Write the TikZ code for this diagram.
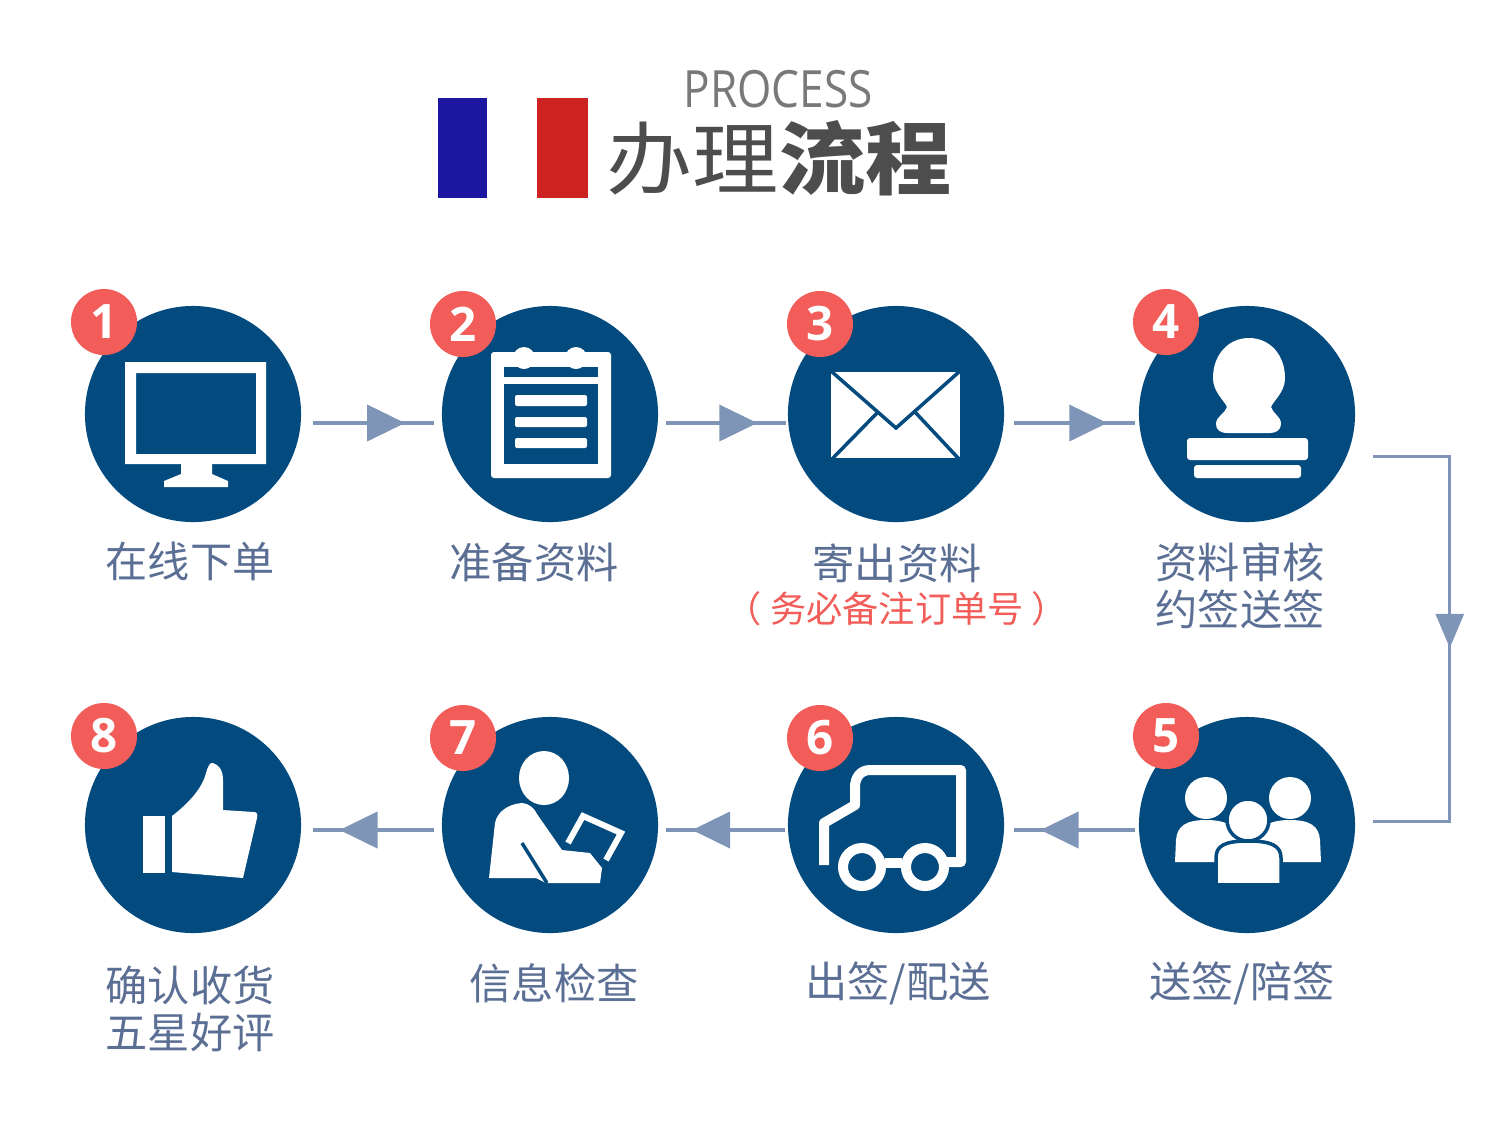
\documentclass[tikz,border=0pt]{standalone}
\usepackage{fontspec}
\setsansfont{Open Sans}
\newfontfamily\cjk{Noto Sans CJK SC}
\usetikzlibrary{calc,arrows.meta,decorations.markings}
\definecolor{stepblue}{HTML}{034A7E}
\definecolor{badgered}{HTML}{F25C59}
\definecolor{flowblue}{HTML}{7F95B7}
\definecolor{labelblue}{HTML}{5B6F94}
\definecolor{titlegray}{HTML}{4D4D4D}
\definecolor{flagblue}{HTML}{1C16A0}
\definecolor{flagred}{HTML}{CC2320}
\tikzset{
  stepnode/.style={circle,fill=stepblue,minimum size=2.16cm,inner sep=0pt},
  badge/.style={circle,fill=badgered,minimum size=0.66cm,inner sep=0pt,text=white,font=\sffamily\bfseries\fontsize{13.5}{14}\selectfont},
  steplabel/.style={text=labelblue,align=center,inner sep=0pt,font=\cjk\fontsize{12}{13.4}\selectfont},
  flowline/.style={draw=flowblue,line width=0.04cm},
  midtip/.style={postaction={decorate},decoration={markings,mark=at position #1 with {\arrow[flowblue]{Triangle[length=0.38cm,width=0.36cm]}}}},
  downtip/.style={postaction={decorate},decoration={markings,mark=at position #1 with {\arrow[flowblue]{Triangle[length=0.34cm,width=0.28cm]}}}},
  icon/.style={fill=white,draw=none},
  iconline/.style={draw=white,line width=0.1cm},
  iconcut/.style={draw=stepblue,line width=0.035cm}
}
\begin{document}
\begin{tikzpicture}[x=0.01cm,y=-0.01cm]
\useasboundingbox (0,0) rectangle (1500,1141);
% Draw title
\fill[flagblue] (438,98) rectangle (487,198);
\fill[flagred] (537,98) rectangle (588,198);
\node[text=titlegray!75,inner sep=0pt,xscale=.86,font=\sffamily\fontsize{14.6}{15}\selectfont] (process) at (778,89) {PROCESS};
\node[text=titlegray,inner sep=0pt,yscale=.92,font=\cjk\fontsize{24.5}{25}\selectfont] (title) at (779,158) {办理{\bfseries 流程}};
% Draw circles
\node[stepnode] (step1) at (193,414) {};
\node[stepnode] (step2) at (550,414) {};
\node[stepnode] (step3) at (896,414) {};
\node[stepnode] (step4) at (1247,414) {};
\node[stepnode] (step5) at (1247,825) {};
\node[stepnode] (step6) at (896,825) {};
\node[stepnode] (step7) at (550,825) {};
\node[stepnode] (step8) at (193,825) {};
% Draw monitor
\fill[icon,even odd rule] (125,362) rectangle (266,464) (136,373) rectangle (256,454);
\fill[icon] (181,464) -- (212,464) -- (212,474) -- (228,481) -- (228,487) -- (164,487) -- (164,481) -- (181,474) -- cycle;
% Draw notepad
\fill[icon,rounded corners=0.03cm] (491,352) rectangle (611,478);
\fill[stepblue] (504,367) rectangle (598,377);
\fill[stepblue] (504,384) rectangle (598,464);
\fill[icon] (524,358) circle[radius=11];
\fill[icon] (576,358) circle[radius=11];
\fill[icon,rounded corners=0.02cm] (515,395) rectangle (587,406);
\fill[icon,rounded corners=0.02cm] (515,417) rectangle (587,427);
\fill[icon,rounded corners=0.02cm] (515,438) rectangle (587,448);
% Draw envelope
\fill[icon] (831,372) rectangle (960,458);
\draw[iconcut] (831,371) -- (896,428) -- (960,371);
\draw[iconcut] (832,459) -- (878,412);
\draw[iconcut] (959,459) -- (915,412);
% Draw stamp
\fill[icon] (1249,338) .. controls (1270,338) and (1285,355) .. (1285,378) .. controls (1285,392) and (1274,400) .. (1271,407) .. controls (1273,414) and (1281,416) .. (1281,424) .. controls (1281,430) and (1276,433) .. (1270,433) -- (1228,433) .. controls (1220,433) and (1216,430) .. (1216,424) .. controls (1216,416) and (1225,414) .. (1227,407) .. controls (1224,400) and (1213,392) .. (1213,378) .. controls (1213,355) and (1228,338) .. (1249,338) -- cycle;
\fill[icon,rounded corners=0.03cm] (1187,438) rectangle (1308,460);
\fill[icon,rounded corners=0.03cm] (1194,465) rectangle (1301,478);
% Draw people
\fill[icon] (1206,798) circle[radius=21];
\fill[icon] (1290,798) circle[radius=21];
\fill[icon] (1175,862) -- (1176,840) .. controls (1177,826) and (1186,820) .. (1206,820) .. controls (1226,820) and (1237,826) .. (1238,840) -- (1238,862) -- cycle;
\fill[icon] (1321,862) -- (1320,840) .. controls (1319,826) and (1310,820) .. (1290,820) .. controls (1270,820) and (1259,826) .. (1258,840) -- (1258,862) -- cycle;
\filldraw[fill=white,iconcut] (1248,820) circle[radius=21];
\filldraw[fill=white,iconcut] (1216,885) -- (1216,858) .. controls (1216,846) and (1224,841) .. (1248,841) .. controls (1272,841) and (1281,846) .. (1281,858) -- (1281,885) -- cycle;
\fill[stepblue] (1213,883) rectangle (1284,888);
% Draw truck
\draw[iconline,line join=round] (824,865) -- (824,823) -- (855,805) -- (855,787) .. controls (855,778) and (860,770) .. (870,770) -- (961,770) -- (961,862) -- (944,862);
\draw[iconline] (885,863) -- (902,863);
\draw[iconline] (862,867) circle[radius=19];
\draw[iconline] (925,867) circle[radius=19];
% Draw person with tablet
\fill[icon] (544,751) .. controls (558,751) and (569,763) .. (569,778) .. controls (569,793) and (558,805) .. (544,805) .. controls (530,805) and (519,793) .. (519,778) .. controls (519,763) and (530,751) .. (544,751) -- cycle;
\fill[icon] (489,878) -- (495,823) .. controls (497,812) and (508,804) .. (522,803) .. controls (530,804) and (534,808) .. (537,814) -- (562,850) -- (590,853) -- (602,868) -- (600,883) -- (546,883) -- (536,878) -- cycle;
\draw[iconcut] (522,843) -- (547,883);
\draw[draw=white,line width=0.06cm] (606,860) -- (621,833) -- (583,816) -- (568,843);
% Draw thumb
\fill[icon] (143,816) rectangle (165,873);
\fill[icon] (172,872) -- (172,816) .. controls (185,806) and (202,790) .. (206,773) .. controls (208,766) and (210,762) .. (213,763) .. controls (219,765) and (223,770) .. (223,780) -- (223,810) -- (254,812) .. controls (257,812) and (258,814) .. (257,818) -- (243,878) -- cycle;
% Draw badges
\node[badge] (badge1) at (104,322) {1};
\node[badge] (badge2) at (463,324) {2};
\node[badge] (badge3) at (820,324) {3};
\node[badge] (badge4) at (1166,322) {4};
\node[badge] (badge5) at (1166,736) {5};
\node[badge] (badge6) at (820,738) {6};
\node[badge] (badge7) at (463,738) {7};
\node[badge] (badge8) at (104,736) {8};
% Draw labels
\node[steplabel] (label1) at (190,561) {在线下单};
\node[steplabel] (label2) at (534,562) {准备资料};
\node[steplabel] (label3) at (897,563) {寄出资料};
\node[steplabel,text=badgered,font=\cjk\fontsize{10.3}{12}\selectfont] (note3) at (897,609) {（ 务必备注订单号 ）};
\node[steplabel] (label4) at (1240,586) {资料审核\\约签送签};
\node[steplabel] (label5) at (1242,983) {送签/陪签};
\node[steplabel] (label6) at (898,983) {出签/配送};
\node[steplabel] (label7) at (554,983) {信息检查};
\node[steplabel] (label8) at (190,1009) {确认收货\\五星好评};
% Connect the steps
\draw[flowline,midtip=.76] ($(step1.east)+(11,9)$) -- ($(step2.west)+(-7,9)$);
\draw[flowline,midtip=.76] ($(step2.east)+(7,9)$) -- ($(step3.west)+(-1,9)$);
\draw[flowline,midtip=.77] ($(step3.east)+(9,9)$) -- ($(step4.west)+(-3,9)$);
\draw[flowline,line width=0.03cm,downtip=.518] ($(step4.east)+(17,42)$) -- ++(77,0) -- ++(0,365) -- ($(step5.east)+(17,-4)$);
\draw[flowline,midtip=.78] ($(step5.west)+(-3,5)$) -- ($(step6.east)+(9,5)$);
\draw[flowline,midtip=.78] ($(step6.west)+(-2,5)$) -- ($(step7.east)+(7,5)$);
\draw[flowline,midtip=.78] ($(step7.west)+(-7,5)$) -- ($(step8.east)+(11,5)$);
\end{tikzpicture}
\end{document}
